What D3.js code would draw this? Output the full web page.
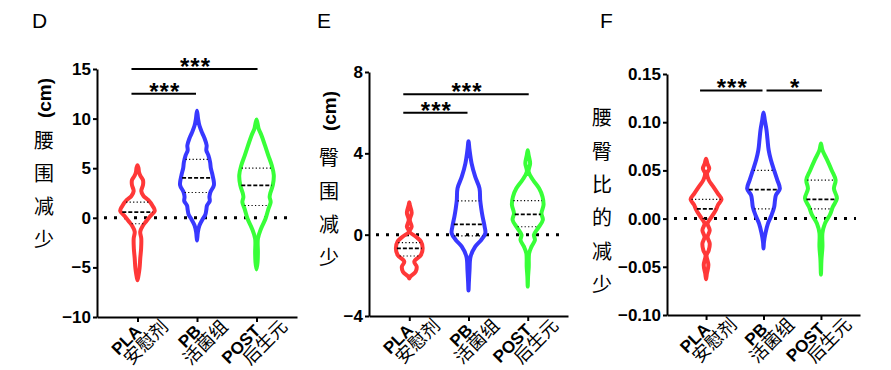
<!DOCTYPE html>
<html lang="zh">
<head>
<meta charset="utf-8">
<script src="https://cdn.jsdelivr.net/npm/d3@7"></script>
<style>
  body { margin: 0; background: #fff; }
  svg { display: block; }
  text { font-family: Arial, "Liberation Sans", sans-serif; fill: #000; }
  .cjk { font-family: "Noto Sans CJK SC", sans-serif; }
</style>
</head>
<body>
<svg id="chart" width="891" height="370"></svg>
<script>
const groups = ["PLA", "PB", "POST"];
const groupNames = ["安慰剂", "活菌组", "后生元"];
const colors = ["#ff3838", "#3838ff", "#38ff38"];

// violin outlines per group: [value, relative density], top to bottom
const waistViolins = [
  [[5.3,0],[5.0,0.06],[4.6,0.09],[4.2,0.18],[3.8,0.32],[3.3,0.32],[2.7,0.22],[2.2,0.35],[1.8,0.62],[1.2,0.88],[0.7,1.0],[0.2,0.76],[-0.3,0.53],[-0.8,0.31],[-1.4,0.16],[-2.1,0.22],[-3.1,0.21],[-4.1,0.16],[-5.1,0.12],[-5.8,0.06],[-6.3,0]],
  [[10.8,0],[10.0,0.06],[9.3,0.14],[8.6,0.29],[8.0,0.44],[7.3,0.56],[6.8,0.54],[6.3,0.66],[5.6,0.76],[5.0,0.8],[4.3,0.9],[3.3,0.98],[2.6,0.78],[2.1,0.72],[1.7,0.74],[1.24,0.58],[0.8,0.54],[0.3,0.48],[-0.1,0.34],[-0.77,0.14],[-1.44,0.05],[-2.3,0]],
  [[9.9,0],[9.0,0.12],[8.3,0.29],[7.3,0.49],[6.3,0.68],[5.3,0.88],[4.3,1.0],[3.26,0.94],[2.5,0.8],[2.1,0.76],[1.58,0.82],[0.9,0.69],[-0.1,0.52],[-1.1,0.26],[-2.1,0.08],[-3.5,0.08],[-4.5,0.06],[-5.2,0]]
];
const hipViolins = [
  [[1.6,0],[1.46,0.03],[1.08,0.14],[0.72,0.03],[0.39,0.14],[0.15,0.02],[-0.1,0.39],[-0.34,0.68],[-0.67,0.78],[-1.0,0.68],[-1.33,0.29],[-1.57,0.43],[-1.82,0.37],[-2.07,0.05],[-2.15,0]],
  [[4.6,0],[4.17,0.06],[3.51,0.18],[2.85,0.39],[2.28,0.64],[1.71,0.68],[1.3,0.74],[0.89,0.82],[0.39,0.94],[0.07,0.98],[-0.26,0.74],[-0.59,0.39],[-1.08,0.12],[-1.74,0.06],[-2.39,0.02],[-2.75,0]],
  [[4.15,0],[3.92,0.05],[3.51,0.14],[3.1,0.05],[2.69,0.31],[2.28,0.66],[1.87,0.86],[1.46,0.92],[1.05,0.8],[0.72,0.88],[0.31,0.59],[-0.01,0.36],[-0.26,0.42],[-0.59,0.22],[-0.92,0.08],[-1.57,0.06],[-2.07,0.02],[-2.55,0]]
];
const ratioViolins = [
  [[0.062,0],[0.057,0.08],[0.052,0.19],[0.047,0.06],[0.040,0.16],[0.033,0.44],[0.026,0.71],[0.020,0.93],[0.014,0.71],[0.009,0.59],[0.002,0.34],[-0.005,0.09],[-0.012,0.22],[-0.019,0.09],[-0.026,0.22],[-0.033,0.16],[-0.038,0.03],[-0.048,0.14],[-0.057,0.05],[-0.063,0]],
  [[0.110,0],[0.102,0.08],[0.092,0.18],[0.082,0.24],[0.071,0.31],[0.061,0.44],[0.050,0.64],[0.040,0.83],[0.031,0.98],[0.0245,0.75],[0.019,0.69],[0.012,0.64],[0.004,0.49],[-0.005,0.27],[-0.015,0.12],[-0.024,0.03],[-0.031,0]],
  [[0.078,0],[0.071,0.09],[0.061,0.37],[0.050,0.65],[0.040,0.88],[0.031,0.78],[0.021,0.96],[0.012,0.71],[0.004,0.54],[-0.005,0.24],[-0.015,0.09],[-0.029,0.09],[-0.043,0.03],[-0.058,0]]
];

// quartiles per group: [Q1, median, Q3]
const waistQuartiles = [[-0.6, 0.57, 1.58], [2.55, 4.03, 5.88], [1.24, 3.26, 5.0]];
const hipQuartiles = [[-1.05, -0.67, -0.39], [-0.06, 0.51, 1.66], [0.39, 1.0, 1.67]];
const ratioQuartiles = [[0.0, 0.01, 0.02], [0.01, 0.03, 0.05], [0.01, 0.02, 0.04]];

// significance: [from group, to group, value, label]
const waistSig = [[0, 2, 15, "***"], [0, 1, 12.5, "***"]];
const hipSig = [[0, 2, 6.9, "***"], [0, 1, 6.0, "***"]];
const ratioSig = [[0, 1, 0.133, "***"], [1, 2, 0.133, "*"]];

const waistTicks = [-10, -5, 0, 5, 10, 15];
const hipTicks = [-4, 0, 4, 8];
const ratioTicks = [-0.10, -0.05, 0.00, 0.05, 0.10, 0.15];

const panels = [
  { letter: "D", lx: 32, left: 97, right: 297, top: 69, bottom: 317, domain: [-10, 15], ticks: waistTicks, fmt: d3.format("d"),
    violins: waistViolins, quart: waistQuartiles, sig: waistSig,
    unit: "(cm)", chars: ["腰", "围", "减", "少"], labX: 44, unitY: 98, charY: 141, charStep: 33 },
  { letter: "E", lx: 317, left: 369, right: 568, top: 72, bottom: 316, domain: [-4, 8], ticks: hipTicks, fmt: d3.format("d"),
    violins: hipViolins, quart: hipQuartiles, sig: hipSig,
    unit: "(cm)", chars: ["臀", "围", "减", "少"], labX: 329, unitY: 111, charY: 158, charStep: 33.3 },
  { letter: "F", lx: 600, left: 667, right: 860, top: 74, bottom: 315, domain: [-0.10, 0.15], ticks: ratioTicks, fmt: d3.format(".2f"),
    violins: ratioViolins, quart: ratioQuartiles, sig: ratioSig,
    unit: null, chars: ["腰", "臀", "比", "的", "减", "少"], labX: 602, unitY: 0, charY: 118, charStep: 33.4 }
];

const svg = d3.select("#chart");

function densityAt(profile, v) {
  for (let i = 0; i < profile.length - 1; i++) {
    const [v0, d0] = profile[i], [v1, d1] = profile[i + 1];
    if (v <= v0 && v >= v1) return d0 + (d1 - d0) * (v0 - v) / (v0 - v1);
  }
  return 0;
}

panels.forEach(p => {
  const g = svg.append("g");
  const y = d3.scaleLinear().domain(p.domain).range([p.bottom, p.top]);
  const x = d3.scalePoint().domain(groups).range([p.left, p.right]).padding(0.68);
  const w = d3.scaleLinear().domain([0, 1]).range([0, x.step() * 0.29]);

  // panel letter
  g.append("text").attr("x", p.lx).attr("y", 28).attr("font-size", 21).text(p.letter);

  // zero reference line
  g.append("line")
    .attr("x1", p.left + 7).attr("x2", p.right - 4)
    .attr("y1", y(0)).attr("y2", y(0))
    .attr("stroke", "#000").attr("stroke-width", 3)
    .attr("stroke-dasharray", "3,7");

  // violins
  const line = d3.line().curve(d3.curveCatmullRomClosed.alpha(0.5));
  p.violins.forEach((prof, i) => {
    const cx = x(groups[i]);
    const right = prof.map(([v, d]) => [cx + w(d), y(v)]);
    const left = prof.slice(1, -1).reverse().map(([v, d]) => [cx - w(d), y(v)]);
    g.append("path")
      .attr("d", line(right.concat(left)))
      .attr("fill", "none")
      .attr("stroke", colors[i])
      .attr("stroke-width", 4)
      .attr("stroke-linejoin", "round");

    p.quart[i].forEach((q, k) => {
      const hw = w(densityAt(prof, q)) - 1;
      g.append("line")
        .attr("x1", cx - hw).attr("x2", cx + hw)
        .attr("y1", y(q)).attr("y2", y(q))
        .attr("stroke", "#000")
        .attr("stroke-width", k === 1 ? 1.7 : 1.2)
        .attr("stroke-dasharray", k === 1 ? "4,2" : "1.2,2.3");
    });
  });

  // axes
  const yAxis = g.append("g")
    .attr("transform", `translate(${p.left},0)`)
    .call(d3.axisLeft(y).tickValues(p.ticks).tickFormat(p.fmt).tickSize(4).tickSizeOuter(0));
  const xAxis = g.append("g")
    .attr("transform", `translate(0,${p.bottom})`)
    .call(d3.axisBottom(x).tickSize(5).tickSizeOuter(0).tickFormat(""));
  [yAxis, xAxis].forEach(a => {
    a.select(".domain").attr("stroke", "#000").attr("stroke-width", 2);
    a.selectAll(".tick line").attr("stroke", "#000").attr("stroke-width", 2);
  });
  yAxis.selectAll(".tick text")
    .attr("x", -6).attr("font-size", 17).attr("font-weight", "bold")
    .attr("font-family", "Arial, 'Liberation Sans', sans-serif").attr("fill", "#000");

  // category labels
  groups.forEach((name, i) => {
    const lg = g.append("g")
      .attr("transform", `translate(${x(name) + 5},${p.bottom + 15}) rotate(-45)`);
    lg.append("text").attr("text-anchor", "end").attr("font-size", 17)
      .attr("font-weight", "bold").text(name);
    lg.append("text").attr("class", "cjk").attr("text-anchor", "end")
      .attr("x", 22).attr("y", 16).attr("font-size", 18).text(groupNames[i]);
  });

  // y label
  if (p.unit) {
    g.append("text")
      .attr("transform", `translate(${p.labX},${p.unitY}) rotate(-90)`)
      .attr("text-anchor", "middle").attr("dy", "0.35em")
      .attr("font-size", 19).attr("font-weight", "bold").text(p.unit);
  }
  p.chars.forEach((c, k) => {
    g.append("text").attr("class", "cjk")
      .attr("x", p.labX).attr("y", p.charY + k * p.charStep)
      .attr("text-anchor", "middle").attr("dy", "0.36em")
      .attr("font-size", 20).text(c);
  });

  // significance bars
  p.sig.forEach(([a, b, v, label]) => {
    const x1 = x(groups[a]) + (a === 0 ? -6 : 3);
    const x2 = x(groups[b]) + (b === 2 ? 1 : -1);
    g.append("line")
      .attr("x1", x1).attr("x2", x2).attr("y1", y(v)).attr("y2", y(v))
      .attr("stroke", "#000").attr("stroke-width", 2);
    g.append("text")
      .attr("x", (x1 + x2) / 2 + 1).attr("y", y(v) + 6)
      .attr("text-anchor", "middle").attr("font-size", 24).attr("font-weight", "bold")
      .attr("letter-spacing", 1).text(label);
  });
});
</script>
</body>
</html>
